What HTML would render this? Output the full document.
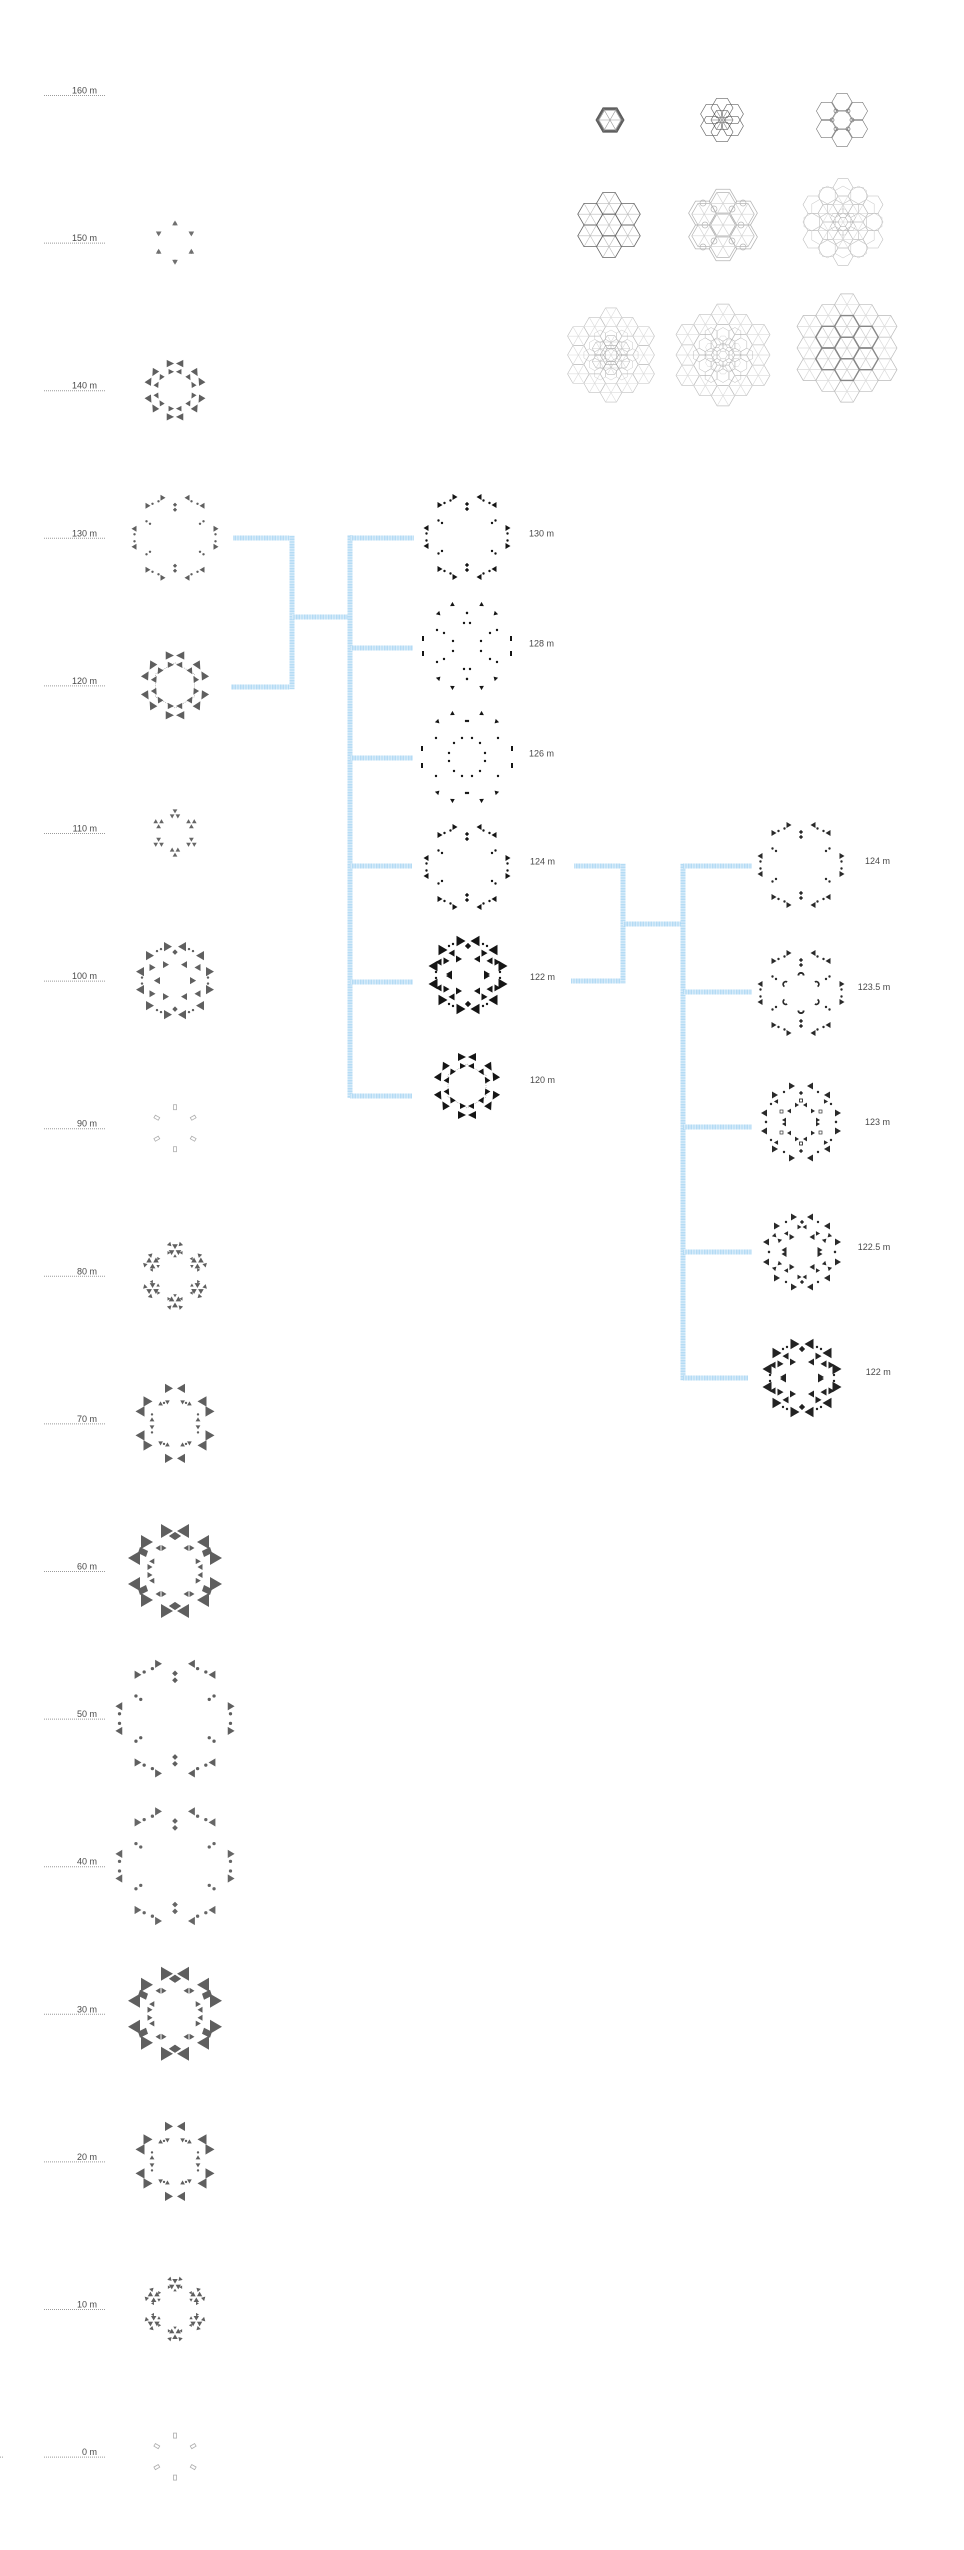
<!DOCTYPE html>
<html><head><meta charset="utf-8"><title>Section study</title>
<style>
html,body{margin:0;padding:0;background:#fff;width:964px;height:2550px;overflow:hidden}
svg{display:block}
text{font-family:"Liberation Sans",Arial,sans-serif;font-size:9px;fill:#4a4a4a}
</style></head><body>
<svg width="964" height="2550" viewBox="0 0 964 2550" xmlns="http://www.w3.org/2000/svg">
<defs>
<pattern id="pv" width="6" height="1.6" patternUnits="userSpaceOnUse"><rect width="6" height="1.6" fill="#e1f0fb"/><rect width="6" height="0.8" fill="#a9d6f3"/></pattern>
<pattern id="ph" width="1.6" height="6" patternUnits="userSpaceOnUse"><rect width="1.6" height="6" fill="#e1f0fb"/><rect width="0.8" height="6" fill="#a9d6f3"/></pattern>

<path id="t3" d="M-1.5,-1.8L1.5,0L-1.5,1.8Z"/>
<path id="t4" d="M-2,-2.4L2,0L-2,2.4Z"/>
<path id="t5" d="M-2.5,-3L2.5,0L-2.5,3Z"/>
<path id="t6" d="M-3,-3.5L3,0L-3,3.5Z"/>
<path id="t8" d="M-4,-4.6L4,0L-4,4.6Z"/>
<path id="t9" d="M-4.5,-5.2L4.5,0L-4.5,5.2Z"/>
<path id="t12" d="M-6,-7L6,0L-6,7Z"/>
<circle id="d" r="1.2"/>
<path id="dm" d="M0,-2L2,0L0,2L-2,0Z"/>
<path id="cup" d="M-3.5,-1.5A3.5,3.5 0 0 0 3.5,-1.5L1.8,-1.5A1.8,1.8 0 0 1 -1.8,-1.5Z"/>

<path id="hx" d="M12.5,0L6.25,10.83L-6.25,10.83L-12.5,0L-6.25,-10.83L6.25,-10.83Z"/>
<path id="hxi" d="M-12.5,0H12.5M-6.25,-10.83L6.25,10.83M6.25,-10.83L-6.25,10.83"/>
<g id="fl7"><use href="#hx"/><use href="#hx" x="0" y="-21.65"/><use href="#hx" x="0" y="21.65"/><use href="#hx" x="18.75" y="-10.83"/><use href="#hx" x="18.75" y="10.83"/><use href="#hx" x="-18.75" y="-10.83"/><use href="#hx" x="-18.75" y="10.83"/></g>
<g id="fl7i"><use href="#hxi"/><use href="#hxi" x="0" y="-21.65"/><use href="#hxi" x="0" y="21.65"/><use href="#hxi" x="18.75" y="-10.83"/><use href="#hxi" x="18.75" y="10.83"/><use href="#hxi" x="-18.75" y="-10.83"/><use href="#hxi" x="-18.75" y="10.83"/></g>
<g id="rg2"><use href="#hx" x="37.5" y="0"/><use href="#hx" x="-37.5" y="0"/><use href="#hx" x="37.5" y="21.65"/><use href="#hx" x="37.5" y="-21.65"/><use href="#hx" x="-37.5" y="21.65"/><use href="#hx" x="-37.5" y="-21.65"/><use href="#hx" x="18.75" y="32.48"/><use href="#hx" x="18.75" y="-32.48"/><use href="#hx" x="-18.75" y="32.48"/><use href="#hx" x="-18.75" y="-32.48"/><use href="#hx" x="0" y="43.3"/><use href="#hx" x="0" y="-43.3"/></g>
<g id="rg2i"><use href="#hxi" x="37.5" y="0"/><use href="#hxi" x="-37.5" y="0"/><use href="#hxi" x="37.5" y="21.65"/><use href="#hxi" x="37.5" y="-21.65"/><use href="#hxi" x="-37.5" y="21.65"/><use href="#hxi" x="-37.5" y="-21.65"/><use href="#hxi" x="18.75" y="32.48"/><use href="#hxi" x="18.75" y="-32.48"/><use href="#hxi" x="-18.75" y="32.48"/><use href="#hxi" x="-18.75" y="-32.48"/><use href="#hxi" x="0" y="43.3"/><use href="#hxi" x="0" y="-43.3"/></g>

<g id="qA">
<use href="#t5" transform="translate(-12,-40)"/>
<use href="#d" transform="translate(-16.5,-36.5)"/>
<use href="#dm" transform="translate(0,-33)"/>
<use href="#dm" transform="translate(0,-28)"/>
<use href="#t5" transform="translate(-27,-32)"/>
<use href="#d" transform="translate(-22.5,-34)"/>
<use href="#d" transform="translate(-28.5,-16.5)"/>
<use href="#d" transform="translate(-25,-14)"/>
<use href="#t5" transform="translate(-41,-9) rotate(180)"/>
<use href="#d" transform="translate(-40.5,-3.5)"/>
</g>
<g id="fA"><use href="#qA"/><use href="#qA" transform="scale(-1,1)"/><use href="#qA" transform="scale(1,-1)"/><use href="#qA" transform="scale(-1,-1)"/></g>

<g id="q1235">
<use href="#qA"/>
<use href="#cup" transform="translate(0,-19) rotate(180)"/>
<use href="#cup" transform="translate(-16.5,-9.5) rotate(120)"/>
</g>
<g id="f1235"><use href="#q1235"/><use href="#q1235" transform="scale(-1,1)"/><use href="#q1235" transform="scale(1,-1)"/><use href="#q1235" transform="scale(-1,-1)"/></g>

<g id="qDR">
<use href="#t8" transform="translate(-7,-34)"/>
<use href="#dm" transform="translate(0,-28.5) scale(1.3)"/>
<use href="#d" transform="translate(-14,-31.5)"/>
<use href="#d" transform="translate(-18,-29.5)"/>
<use href="#t8" transform="translate(-25,-25)"/>
<use href="#t6" transform="translate(-24,-14) rotate(-120)"/>
<use href="#t6" transform="translate(-9,-16)"/>
<use href="#t8" transform="translate(-35,-9) rotate(180)"/>
<use href="#d" transform="translate(-33,-3)"/>
<use href="#t6" transform="translate(-18,0) rotate(180)"/>
</g>
<g id="fDR"><use href="#qDR"/><use href="#qDR" transform="scale(-1,1)"/><use href="#qDR" transform="scale(1,-1)"/><use href="#qDR" transform="scale(-1,-1)"/></g>

<g id="qDR2">
<use href="#t9" transform="translate(-7,-34)"/>
<use href="#dm" transform="translate(0,-29) scale(1.5)"/>
<use href="#d" transform="translate(-15,-31)"/>
<use href="#d" transform="translate(-19,-29)"/>
<use href="#t9" transform="translate(-25,-25)"/>
<use href="#t6" transform="translate(-23,-15) rotate(-120)"/>
<use href="#t6" transform="translate(-28,-12) rotate(60)"/>
<use href="#t6" transform="translate(-9,-16)"/>
<use href="#t6" transform="translate(-15,-21) rotate(60)"/>
<use href="#t9" transform="translate(-35,-9) rotate(180)"/>
<use href="#d" transform="translate(-32,-3)"/>
<use href="#t6" transform="translate(-19,-1) rotate(180)"/>
</g>
<g id="fDR2"><use href="#qDR2"/><use href="#qDR2" transform="scale(-1,1)"/><use href="#qDR2" transform="scale(1,-1)"/><use href="#qDR2" transform="scale(-1,-1)"/></g>

<g id="q123">
<use href="#t6" transform="translate(-9,-36)"/>
<use href="#dm" transform="translate(0,-29)"/>
<use href="#d" transform="translate(-17,-30)"/>
<use href="#t6" transform="translate(-26,-27)"/>
<rect x="-1.5" y="-23" width="3" height="3" fill="none" stroke="#333" stroke-width="0.7"/>
<use href="#t4" transform="translate(-4,-17)"/>
<rect x="-21" y="-12" width="3" height="3" fill="none" stroke="#333" stroke-width="0.7"/>
<use href="#t4" transform="translate(-12,-11) rotate(180)"/>
<use href="#t6" transform="translate(-37,-9) rotate(180)"/>
<use href="#d" transform="translate(-35,0)"/>
<use href="#t4" transform="translate(-17,-2) rotate(180)"/>
<use href="#d" transform="translate(-30,-18)"/>
<use href="#t4" transform="translate(-24,-20) rotate(60)"/>
</g>
<g id="f123"><use href="#q123"/><use href="#q123" transform="scale(-1,1)"/><use href="#q123" transform="scale(1,-1)"/><use href="#q123" transform="scale(-1,-1)"/></g>

<g id="q1225">
<use href="#t6" transform="translate(-8,-35)"/>
<use href="#dm" transform="translate(0,-30)"/>
<use href="#t4" transform="translate(-2.5,-25)"/>
<use href="#t6" transform="translate(-25,-26)"/>
<use href="#d" transform="translate(-16,-30)"/>
<use href="#t6" transform="translate(-36,-10) rotate(180)"/>
<use href="#d" transform="translate(-33,0)"/>
<use href="#t4" transform="translate(-27,-16) rotate(45)"/>
<use href="#t4" transform="translate(-23,-12) rotate(225)"/>
<use href="#t5" transform="translate(-10,-15)"/>
<use href="#t4" transform="translate(-15,-18) rotate(60)"/>
<use href="#t5" transform="translate(-18,-2) rotate(180)"/>
</g>
<g id="f1225"><use href="#q1225"/><use href="#q1225" transform="scale(-1,1)"/><use href="#q1225" transform="scale(1,-1)"/><use href="#q1225" transform="scale(-1,-1)"/></g>

<g id="q70">
<use href="#t8" transform="translate(-6,-35)"/>
<use href="#t9" transform="translate(-27,-22)"/>
<use href="#t9" transform="translate(-35,-12) rotate(180)"/>
<use href="#t4" transform="translate(-15,-19) rotate(150)"/>
<use href="#d" transform="translate(-11,-20.5)"/>
<use href="#t4" transform="translate(-7,-22) rotate(-30)"/>
<use href="#t4" transform="translate(-23,-4) rotate(-90)"/>
<use href="#d" transform="translate(-23,-9)"/>
</g>
<g id="f70"><use href="#q70"/><use href="#q70" transform="scale(-1,1)"/><use href="#q70" transform="scale(1,-1)"/><use href="#q70" transform="scale(-1,-1)"/></g>

<g id="q60">
<use href="#t12" transform="translate(-8,-40)"/>
<path d="M0,-39L6,-35L0,-31L-6,-35Z"/>
<use href="#t12" transform="translate(-28,-29)"/>
<path d="M-35,-24L-27,-20L-29,-14L-37,-18Z"/>
<use href="#t12" transform="translate(-41,-13) rotate(180)"/>
<use href="#t5" transform="translate(-17,-23) rotate(180)"/>
<use href="#t5" transform="translate(-11,-23)"/>
<use href="#t5" transform="translate(-25,-4)"/>
<use href="#t5" transform="translate(-22,-9) rotate(60)"/>
</g>
<g id="f60"><use href="#q60"/><use href="#q60" transform="scale(-1,1)"/><use href="#q60" transform="scale(1,-1)"/><use href="#q60" transform="scale(-1,-1)"/></g>

<g id="q128">
<use href="#t4" transform="translate(-14,-41) rotate(30)"/>
<use href="#t4" transform="translate(-28,-32) rotate(45)"/>
<use href="#d" transform="translate(0,-33)"/>
<use href="#d" transform="translate(-3,-23)"/>
<use href="#d" transform="translate(-30,-16)"/>
<use href="#d" transform="translate(-23,-13)"/>
<rect x="-45" y="-10" width="2" height="5"/>
<use href="#d" transform="translate(-14,-5)" />
</g>
<g id="f128"><use href="#q128"/><use href="#q128" transform="scale(-1,1)"/><use href="#q128" transform="scale(1,-1)"/><use href="#q128" transform="scale(-1,-1)"/></g>
<g id="q126">
<use href="#t4" transform="translate(-14,-43) rotate(30)"/>
<use href="#t4" transform="translate(-29,-35) rotate(45)"/>
<use href="#d" transform="translate(1,-36)"/>
<use href="#d" transform="translate(-13,-14)"/>
<use href="#d" transform="translate(-5,-19)"/>
<use href="#d" transform="translate(-31,-19)"/>
<rect x="-46" y="-11" width="2" height="5"/>
<use href="#d" transform="translate(-18,-4)"/>
</g>
<g id="f126"><use href="#q126"/><use href="#q126" transform="scale(-1,1)"/><use href="#q126" transform="scale(1,-1)"/><use href="#q126" transform="scale(-1,-1)"/></g>

<path id="cB" d="M-9,-9L-9,-1L-1,-5Z M9,-9L9,-1L1,-5Z M-7,1L-7,7L-1,4Z M7,1L7,7L1,4Z"/>
<g id="fB"><use href="#cB" transform="translate(0,-24)"/><use href="#cB" transform="rotate(60) translate(0,-24)"/><use href="#cB" transform="rotate(120) translate(0,-24)"/><use href="#cB" transform="rotate(180) translate(0,-24)"/><use href="#cB" transform="rotate(240) translate(0,-24)"/><use href="#cB" transform="rotate(300) translate(0,-24)"/></g>

<g id="c150"><use href="#t3" transform="translate(0,-1.6) rotate(-90)"/><use href="#t3" transform="translate(-1.5,1) rotate(150)"/><use href="#t3" transform="translate(1.5,1) rotate(30)"/><circle r="0.8"/></g>
<g id="f150"><use href="#c150" transform="translate(0,-19)"/><use href="#c150" transform="rotate(60) translate(0,-19)"/><use href="#c150" transform="rotate(120) translate(0,-19)"/><use href="#c150" transform="rotate(180) translate(0,-19)"/><use href="#c150" transform="rotate(240) translate(0,-19)"/><use href="#c150" transform="rotate(300) translate(0,-19)"/></g>
<g id="c110"><use href="#t4" transform="translate(0,-2.6) rotate(90)"/><use href="#t4" transform="translate(-2.3,1.4) rotate(-30)"/><use href="#t4" transform="translate(2.3,1.4) rotate(210)"/></g>
<g id="f110"><use href="#c110" transform="translate(0,-19)"/><use href="#c110" transform="rotate(60) translate(0,-19)"/><use href="#c110" transform="rotate(120) translate(0,-19)"/><use href="#c110" transform="rotate(180) translate(0,-19)"/><use href="#c110" transform="rotate(240) translate(0,-19)"/><use href="#c110" transform="rotate(300) translate(0,-19)"/></g>
<rect id="c90" x="-1.5" y="-2.5" width="3" height="5" fill="none" stroke="#adadad" stroke-width="0.8"/>
<g id="f90"><use href="#c90" transform="translate(0,-21)"/><use href="#c90" transform="rotate(60) translate(0,-21)"/><use href="#c90" transform="rotate(120) translate(0,-21)"/><use href="#c90" transform="rotate(180) translate(0,-21)"/><use href="#c90" transform="rotate(240) translate(0,-21)"/><use href="#c90" transform="rotate(300) translate(0,-21)"/></g>
<g id="c80"><use href="#c110" transform="scale(1.2)"/><use href="#t4" transform="translate(-5,-5) rotate(45)"/><use href="#t4" transform="translate(5,-5) rotate(135)"/><use href="#t3" transform="translate(0,6) rotate(-90)"/><use href="#t3" transform="translate(-6,3)"/><use href="#t3" transform="translate(6,3) rotate(180)"/></g>
<g id="f80"><use href="#c80" transform="translate(0,-26)"/><use href="#c80" transform="rotate(60) translate(0,-26)"/><use href="#c80" transform="rotate(120) translate(0,-26)"/><use href="#c80" transform="rotate(180) translate(0,-26)"/><use href="#c80" transform="rotate(240) translate(0,-26)"/><use href="#c80" transform="rotate(300) translate(0,-26)"/></g>
<polygon id="hexl" points="0,-22 19,-11 19,11 0,22 -19,11 -19,-11" fill="none" stroke="#9a9a9a" stroke-width="0.6" stroke-dasharray="1 1"/>
</defs>

<path d="M44,95.5H105M44,243.1H105M44,390.7H105M44,538.3H105M44,685.9H105M44,833.5H105M44,981.1H105M44,1128.7H105M44,1276.3H105M44,1423.9H105M44,1571.5H105M44,1719.1H105M44,1866.7H105M44,2014.3H105M44,2161.9H105M44,2309.5H105M44,2457.1H105M0,2457.1H3" stroke="#9a9a9a" stroke-width="1" stroke-dasharray="1 1" fill="none"/>
<g text-anchor="end">
<text x="97" y="93.5">160 m</text>
<text x="97" y="241.1">150 m</text>
<text x="97" y="388.7">140 m</text>
<text x="97" y="536.3">130 m</text>
<text x="97" y="683.9">120 m</text>
<text x="97" y="831.5">110 m</text>
<text x="97" y="979.1">100 m</text>
<text x="97" y="1126.7">90 m</text>
<text x="97" y="1274.3">80 m</text>
<text x="97" y="1421.9">70 m</text>
<text x="97" y="1569.5">60 m</text>
<text x="97" y="1717.1">50 m</text>
<text x="97" y="1864.7">40 m</text>
<text x="97" y="2012.3">30 m</text>
<text x="97" y="2159.9">20 m</text>
<text x="97" y="2307.5">10 m</text>
<text x="97" y="2455.1">0 m</text>
</g>

<use href="#f150" transform="translate(175,242.6)" fill="#707070"/>
<use href="#fB" transform="translate(175,390.2) scale(0.92)" fill="#5f5f5f"/>
<use href="#fA" transform="translate(175,537.8)" fill="#5f5f5f"/>
<use href="#hexl" transform="translate(175,685.4) scale(1.03)"/>
<use href="#fB" transform="translate(175,685.4) scale(1.03)" fill="#5f5f5f"/>
<use href="#f110" transform="translate(175,833)" fill="#666"/>
<use href="#fDR" transform="translate(175,980.6)" fill="#606060"/>
<use href="#f90" transform="translate(175,1128.2)"/>
<use href="#f80" transform="translate(175,1275.8)" fill="#5f5f5f"/>
<use href="#f70" transform="translate(175,1423.4)" fill="#5f5f5f"/>
<use href="#f60" transform="translate(175,1571)" fill="#5f5f5f"/>
<use href="#fA" transform="translate(175,1718.6) scale(1.37)" fill="#5f5f5f"/>
<use href="#fA" transform="translate(175,1866.2) scale(1.37)" fill="#666"/>
<use href="#f60" transform="translate(175,2013.8)" fill="#5f5f5f"/>
<use href="#f70" transform="translate(175,2161.4)" fill="#5f5f5f"/>
<use href="#f80" transform="translate(175,2309) scale(0.95)" fill="#5f5f5f"/>
<use href="#f90" transform="translate(175,2456.6)"/>

<rect x="233" y="535.5" width="60" height="5" fill="url(#ph)"/>
<rect x="231" y="684.5" width="62" height="5" fill="url(#ph)"/>
<rect x="289.5" y="535.5" width="5" height="154" fill="url(#pv)"/>
<rect x="292" y="614.5" width="58" height="5" fill="url(#ph)"/>
<rect x="347.5" y="535" width="5" height="563" fill="url(#pv)"/>
<rect x="350" y="535.5" width="64" height="5" fill="url(#ph)"/>
<rect x="350" y="645.5" width="63" height="5" fill="url(#ph)"/>
<rect x="350" y="755.5" width="63" height="5" fill="url(#ph)"/>
<rect x="350" y="863.5" width="62" height="5" fill="url(#ph)"/>
<rect x="350" y="979.5" width="63" height="5" fill="url(#ph)"/>
<rect x="350" y="1093.5" width="62" height="5" fill="url(#ph)"/>

<rect x="574" y="863.5" width="51" height="5" fill="url(#ph)"/>
<rect x="571" y="978.5" width="54" height="5" fill="url(#ph)"/>
<rect x="620.5" y="863.5" width="5" height="120" fill="url(#pv)"/>
<rect x="623" y="921.5" width="60" height="5" fill="url(#ph)"/>
<rect x="680.5" y="863.5" width="5" height="517" fill="url(#pv)"/>
<rect x="683" y="863.5" width="69" height="5" fill="url(#ph)"/>
<rect x="683" y="989.5" width="69" height="5" fill="url(#ph)"/>
<rect x="683" y="1124.5" width="69" height="5" fill="url(#ph)"/>
<rect x="683" y="1249.5" width="69" height="5" fill="url(#ph)"/>
<rect x="683" y="1375.5" width="65" height="5" fill="url(#ph)"/>

<use href="#fA" transform="translate(467,537)" fill="#151515"/>
<use href="#f128" transform="translate(467,646)" fill="#151515"/>
<use href="#f126" transform="translate(467,757)" fill="#151515"/>
<use href="#fA" transform="translate(467,867)" fill="#151515"/>
<use href="#fDR2" transform="translate(468,975)" fill="#151515"/>
<use href="#hexl" transform="translate(467,1086)"/>
<use href="#fB" transform="translate(467,1086)" fill="#151515"/>
<text x="529" y="536.7">130 m</text>
<text x="529" y="646.7">128 m</text>
<text x="529" y="756.7">126 m</text>
<text x="530" y="864.5">124 m</text>
<text x="530" y="980">122 m</text>
<text x="530" y="1083">120 m</text>

<use href="#fA" transform="translate(801,865)" fill="#2a2a2a"/>
<use href="#f1235" transform="translate(801,993)" fill="#2a2a2a"/>
<use href="#f123" transform="translate(801,1122)" fill="#2a2a2a"/>
<use href="#f1225" transform="translate(802,1252)" fill="#2a2a2a"/>
<use href="#fDR2" transform="translate(802,1378)" fill="#222"/>
<text x="865" y="864">124 m</text>
<text x="857.7" y="990">123.5 m</text>
<text x="865" y="1125">123 m</text>
<text x="857.7" y="1250">122.5 m</text>
<text x="865.7" y="1375">122 m</text>

<g fill="none">
<g transform="translate(610,120)" stroke="#555">
 <use href="#hx" transform="scale(1.12)" stroke-width="0.8"/>
 <use href="#hx" transform="scale(1.04)" stroke-width="0.9"/>
 <use href="#hx" transform="scale(0.96)" stroke-width="0.8"/>
 <use href="#hx" transform="scale(0.88)" stroke-width="0.6" stroke="#888"/>
 <use href="#hxi" transform="scale(1.04)" stroke="#999" stroke-width="0.6"/>
</g>
<g transform="translate(722,120)" stroke="#666" stroke-width="0.75">
 <use href="#hx" transform="scale(0.88)"/>
 <use href="#hx" transform="translate(0,-12) scale(0.88)"/>
 <use href="#hx" transform="rotate(60) translate(0,-12) scale(0.88)"/>
 <use href="#hx" transform="rotate(120) translate(0,-12) scale(0.88)"/>
 <use href="#hx" transform="rotate(180) translate(0,-12) scale(0.88)"/>
 <use href="#hx" transform="rotate(240) translate(0,-12) scale(0.88)"/>
 <use href="#hx" transform="rotate(300) translate(0,-12) scale(0.88)"/>
 <use href="#hxi" transform="scale(0.88)" stroke="#999"/>
</g>
<g transform="translate(842,120)" stroke="#777" stroke-width="0.75">
 <use href="#hx" transform="scale(0.8)" stroke="#aaa"/>
 <use href="#hx" transform="translate(0,-18) scale(0.8)"/>
 <use href="#hx" transform="rotate(60) translate(0,-18) scale(0.8)"/>
 <use href="#hx" transform="rotate(120) translate(0,-18) scale(0.8)"/>
 <use href="#hx" transform="rotate(180) translate(0,-18) scale(0.8)"/>
 <use href="#hx" transform="rotate(240) translate(0,-18) scale(0.8)"/>
 <use href="#hx" transform="rotate(300) translate(0,-18) scale(0.8)"/>
 <circle cx="-6" cy="-9" r="2"/><circle cx="6" cy="-9" r="2"/><circle cx="-10" cy="0" r="2"/><circle cx="10" cy="0" r="2"/><circle cx="-6" cy="9" r="2"/><circle cx="6" cy="9" r="2"/>
</g>
<g transform="translate(609,225)">
 <use href="#fl7i" stroke="#bbb" stroke-width="0.6"/>
 <use href="#fl7" stroke="#666" stroke-width="0.8"/>
</g>
<g transform="translate(723,225)" stroke="#b5b5b5" stroke-width="0.7">
 <use href="#fl7" transform="scale(1.1)"/>
 <use href="#fl7"/>
 <use href="#fl7i" stroke="#d5d5d5"/>
 <circle cx="-9" cy="-16" r="3"/><circle cx="9" cy="-16" r="3"/><circle cx="-18" cy="0" r="3"/><circle cx="18" cy="0" r="3"/><circle cx="-9" cy="16" r="3"/><circle cx="9" cy="16" r="3"/>
 <circle cx="-20" cy="-22" r="3"/><circle cx="20" cy="-22" r="3"/><circle cx="-20" cy="22" r="3"/><circle cx="20" cy="22" r="3"/>
</g>
<g transform="translate(843,222)" stroke-width="0.7">
 <g transform="scale(0.8)" stroke="#bdbdbd"><use href="#fl7"/><use href="#rg2"/><use href="#fl7i" stroke="#d8d8d8"/></g>
 <g transform="rotate(30) scale(0.72)" stroke="#c8c8c8"><use href="#fl7"/><use href="#rg2"/></g>
 <g transform="scale(0.4)" stroke="#999"><use href="#fl7"/></g>
</g>
<g transform="translate(611,355)" stroke-width="0.7">
 <g transform="scale(0.87)" stroke="#c0c0c0"><use href="#fl7"/><use href="#rg2"/><use href="#rg2i" stroke="#dcdcdc"/></g>
 <g transform="scale(0.6)" stroke="#9a9a9a"><use href="#fl7"/><use href="#fl7i" stroke="#c5c5c5"/></g>
 <g transform="rotate(30) scale(0.5)" stroke="#bbb"><use href="#fl7"/><use href="#rg2"/></g>
</g>
<g transform="translate(723,355)" stroke-width="0.7">
 <g transform="scale(0.94)" stroke="#c0c0c0"><use href="#fl7"/><use href="#rg2"/><use href="#rg2i" stroke="#dcdcdc"/></g>
 <g transform="rotate(30) scale(0.55)" stroke="#b0b0b0"><use href="#fl7"/><use href="#rg2"/></g>
 <g transform="scale(0.35)" stroke="#aaa"><use href="#fl7"/><use href="#rg2"/></g>
</g>
<g transform="translate(847,348)" stroke-width="0.7">
 <use href="#rg2i" stroke="#dcdcdc"/>
 <use href="#fl7i" stroke="#cfcfcf"/>
 <use href="#rg2" stroke="#bbb"/>
 <use href="#fl7" stroke="#888" stroke-width="1.4"/>
</g>
</g>
</svg>
</body></html>
